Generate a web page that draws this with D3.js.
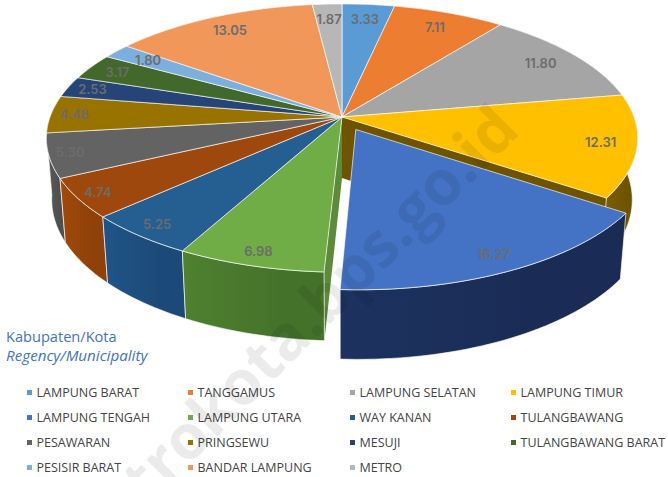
<!DOCTYPE html>
<html>
<head>
<meta charset="utf-8">
<script src="https://cdn.jsdelivr.net/npm/d3@7"></script>
<style>
  body { margin: 0; background: #fff; }
</style>
</head>
<body>
<div id="chart"></div>
<script>
// data
const regencies = ["LAMPUNG BARAT", "TANGGAMUS", "LAMPUNG SELATAN", "LAMPUNG TIMUR",
  "LAMPUNG TENGAH", "LAMPUNG UTARA", "WAY KANAN", "TULANGBAWANG",
  "PESAWARAN", "PRINGSEWU", "MESUJI", "TULANGBAWANG BARAT",
  "PESISIR BARAT", "BANDAR LAMPUNG", "METRO"]
const shares = [3.33, 7.11, 11.80, 12.31, 16.27, 6.98, 5.25, 4.74, 5.30, 4.48, 2.53, 3.17, 1.80, 13.05, 1.87]
const explodedRegency = "LAMPUNG TENGAH"

// colours
const topColors = ["#5b9bd5", "#ed7d31", "#a5a5a5", "#ffc000", "#4472c4", "#70ad47", "#255e91", "#9e480e",
  "#636363", "#997300", "#264478", "#43682b", "#7cafdd", "#f1975a", "#b7b7b7"]
const sideColors = ["#3f75a8", "#b85f22", "#7d7d7d", "#6f5400", "#1a2c55", "#45722a", "#1c4a78", "#8e4109",
  "#4f4f4f", "#6f5400", "#1b3159", "#2f4a1e", "#5c88b0", "#b87040", "#8f8f8f"]
const labelRadius = [.85, .85, .85, .88, .9, .92, .92, .93, .93, .92, .91, .89, .85, .85, .85]

const width = 668, height = 477
const cx = 342, cy = 117      // pie apex
const rx = 292, ry = 130.8    // size of the pie in the picture
const tilt = 0.157            // perspective, the front is closer
const thickness = 62, depthShrink = 0.018
const explode = 0.105

const svg = d3.select("#chart").append("svg")
  .attr("width", width)
  .attr("height", height)
  .attr("viewBox", `0 0 ${width} ${height}`)

const xScale = d3.scaleLinear().domain([-1, 1]).range([cx - rx, cx + rx])
const yScale = d3.scaleLinear().domain([-1, 1]).range([cy - ry, cy + ry])

// u,v are on the pie plane, h is 0 on the top face and 1 on the bottom face
const project = (u, v, h) => {
  const den = 1 - tilt * v + depthShrink * h
  return [xScale(u / den), yScale((v + h * thickness / ry) / den)]
}

const pie = d3.pie().sort(null).value(d => d.share).startAngle(0).endAngle(2 * Math.PI)
const table = regencies.map((name, i) => ({
  name, share: shares[i], top: topColors[i], side: sideColors[i], labelR: labelRadius[i]
}))
const slices = pie(table).map((s, i) => {
  const mid = (s.startAngle + s.endAngle) / 2
  const isOut = s.data.name === explodedRegency
  return {
    ...s, mid, i,
    isOut,
    du: isOut ? explode * Math.sin(mid) : 0,
    dv: isOut ? -explode * Math.cos(mid) : 0
  }
})

// the side walls are a little lighter on their left end
const defs = svg.append("defs")
const gradients = defs.selectAll("linearGradient").data(slices).join("linearGradient")
  .attr("id", d => `side${d.i}`)
gradients.append("stop").attr("offset", "0%").attr("stop-color", d => d3.color(d.data.side).brighter(.35))
gradients.append("stop").attr("offset", "70%").attr("stop-color", d => d.data.side)

const polygon = d3.line().curve(d3.curveLinearClosed)

const rimPoint = (s, a, r, h) =>
  project(s.du + r * Math.sin(a), s.dv - r * Math.cos(a), h)

const arcSamples = s => {
  const n = Math.max(4, Math.ceil((s.endAngle - s.startAngle) * 40))
  return d3.range(n + 1).map(i => s.startAngle + (s.endAngle - s.startAngle) * i / n)
}

const topPath = s => polygon([project(s.du, s.dv, 0), ...arcSamples(s).map(a => rimPoint(s, a, 1, 0))])
const rimPath = s => {
  const angles = arcSamples(s)
  return polygon([...angles.map(a => rimPoint(s, a, 1, 0)), ...angles.slice().reverse().map(a => rimPoint(s, a, 1, 1))])
}
const cutPath = (s, a) => polygon([project(s.du, s.dv, 0), rimPoint(s, a, 1, 0), rimPoint(s, a, 1, 1), project(s.du, s.dv, 1)])

const idx = slices.findIndex(s => s.isOut)
const beforeOut = slices[idx - 1], afterOut = slices[idx + 1]
const rest = slices.filter(s => !s.isOut)
const byDepth = rest.slice().sort((a, b) => -Math.cos(a.mid) + Math.cos(b.mid))

const pieG = svg.append("g").attr("class", "pie3d")
const edge = sel => sel.attr("stroke", "#fff").attr("stroke-opacity", .65).attr("stroke-width", 1).attr("stroke-linejoin", "round")

// the two faces showing in the gap left by the pulled out slice
pieG.append("path").attr("d", cutPath(beforeOut, beforeOut.endAngle)).attr("fill", beforeOut.data.side)
pieG.append("path").attr("d", cutPath(afterOut, afterOut.startAngle)).attr("fill", "#5d8a3b")

pieG.selectAll(".rim").data(byDepth).join("path")
  .attr("class", "rim").attr("d", rimPath).attr("fill", d => `url(#side${d.i})`).call(edge)
pieG.selectAll(".top").data(rest).join("path")
  .attr("class", "top").attr("d", topPath).attr("fill", d => d.data.top).call(edge)

const outSlice = slices[idx]
pieG.append("path").attr("d", rimPath(outSlice)).attr("fill", `url(#side${outSlice.i})`).call(edge)
pieG.append("path").attr("d", topPath(outSlice)).attr("fill", outSlice.data.top).call(edge)

// value labels
svg.append("g").selectAll("text").data(slices).join("text")
  .attr("x", d => rimPoint(d, d.mid, d.data.labelR, 0)[0])
  .attr("y", d => rimPoint(d, d.mid, d.data.labelR, 0)[1])
  .attr("dy", ".35em")
  .attr("text-anchor", "middle")
  .attr("font-family", "Inter, sans-serif")
  .attr("font-size", 13)
  .attr("font-weight", 600)
  .attr("fill", "#6c6c6c")
  .text(d => d.data.share.toFixed(2))

// heading
svg.append("text").attr("x", 6).attr("y", 342)
  .attr("font-family", "'Open Sans', sans-serif").attr("font-size", 14.6).attr("fill", "#4472c4")
  .text("Kabupaten/Kota")
svg.append("text").attr("x", 6).attr("y", 361)
  .attr("font-family", "'Open Sans', sans-serif").attr("font-size", 15.2).attr("font-style", "italic").attr("fill", "#4472c4")
  .text("Regency/Municipality")

// legend
const colX = d3.scaleOrdinal().domain([0, 1, 2, 3]).range([27, 188, 350, 511])
const rowY = d3.scaleLinear().domain([0, 3]).range([392.5, 467.5])
const legend = svg.append("g").selectAll("g").data(table).join("g")
  .attr("transform", (d, i) => `translate(${colX(i % 4)},${rowY(Math.floor(i / 4))})`)
legend.append("rect").attr("y", -2.5).attr("width", 5).attr("height", 5).attr("fill", d => d.top)
legend.append("text").attr("x", 9.5).attr("dy", ".35em")
  .attr("font-family", "'Open Sans', sans-serif").attr("font-size", 12.5).attr("fill", "#444")
  .text(d => d.name)

// watermark, runs off the bottom of the page as in the source
svg.append("text")
  .attr("transform", "translate(148,506) rotate(-45)")
  .attr("font-family", "'Open Sans', sans-serif")
  .attr("font-weight", 700)
  .attr("font-size", 62)
  .attr("fill", "#000")
  .attr("fill-opacity", .08)
  .text("trokota.bps.go.id")
</script>
</body>
</html>
